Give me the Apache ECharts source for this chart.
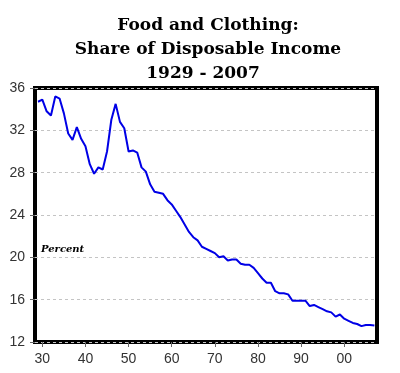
<!DOCTYPE html>
<html><head><meta charset="utf-8">
<script src="https://cdn.jsdelivr.net/npm/echarts@6/dist/echarts.min.js"></script>
<style>html,body{margin:0;padding:0;background:#fff}#c{width:400px;height:373px}</style>
</head><body><div id="c"></div>
<script>
var titleLines = ['Food and Clothing:', 'Share of Disposable Income', '1929 - 2007'];
var unitLabel = 'Percent';
var years = [];
for (var y = 1929; y <= 2007; y++) years.push(y);
var shares = [
 34.7, 34.9, 33.8, 33.4, 35.2, 35.0, 33.6, 31.7, 31.1, 32.3,
 31.2, 30.5, 28.8, 27.9, 28.5, 28.3, 30.0, 33.0, 34.5, 32.8,
 32.2, 30.0, 30.1, 29.9, 28.5, 28.1, 26.9, 26.2, 26.1, 26.0,
 25.4, 25.0, 24.4, 23.8, 23.1, 22.4, 21.9, 21.6, 21.0, 20.8,
 20.6, 20.4, 20.0, 20.1, 19.7, 19.8, 19.8, 19.4, 19.3, 19.3,
 19.0, 18.5, 18.0, 17.6, 17.6, 16.8, 16.6, 16.6, 16.5, 15.9,
 15.9, 15.9, 15.9, 15.4, 15.5, 15.3, 15.1, 14.9, 14.8, 14.4,
 14.6, 14.2, 14.0, 13.8, 13.7, 13.5, 13.6, 13.6, 13.55
];
var xTicks = [1930, 1940, 1950, 1960, 1970, 1980, 1990, 2000];

var data = years.map(function (yr, i) { return [yr, shares[i]]; });
var chart = echarts.init(document.getElementById('c'), null, {renderer: 'canvas'});
var titleFont = {fontFamily: 'DejaVu Serif', fontWeight: 'bold', fontSize: 17, fill: '#000'};
chart.setOption({
  animation: false,
  grid: {left: 35, right: 23, top: 88, bottom: 31, show: true, borderColor: '#000', borderWidth: 4, backgroundColor: 'transparent', containLabel: false},
  xAxis: {
    type: 'value', min: 1928.3, max: 2007.6,
    axisLine: {show: false},
    axisTick: {show: true, customValues: xTicks, length: 5, lineStyle: {color: '#666'}},
    axisLabel: {customValues: xTicks, margin: 10, color: '#333', fontSize: 14, fontFamily: 'Liberation Sans',
      formatter: function (v) { var s = String(Math.round(v) % 100); return s.length < 2 ? '0' + s : s; }},
    splitLine: {show: false}
  },
  yAxis: {
    type: 'value', min: 12, max: 36, interval: 4,
    axisLine: {show: false},
    axisTick: {show: true, length: 5, lineStyle: {color: '#666'}},
    axisLabel: {margin: 10, color: '#333', fontSize: 14, fontFamily: 'Liberation Sans'},
    splitLine: {show: true, lineStyle: {color: '#c4c4c4', type: [3, 3], width: 1}}
  },
  series: [{
    type: 'line', data: data, showSymbol: false, symbol: 'none',
    lineStyle: {color: '#0000e6', width: 2}, z: 5
  }],
  graphic: [
    {type: 'text', x: 208, y: 26, style: Object.assign({text: titleLines[0], align: 'center', verticalAlign: 'middle'}, titleFont)},
    {type: 'text', x: 208, y: 50, style: Object.assign({text: titleLines[1], align: 'center', verticalAlign: 'middle'}, titleFont)},
    {type: 'text', x: 203, y: 74, style: Object.assign({text: titleLines[2], align: 'center', verticalAlign: 'middle'}, titleFont)},
    {type: 'text', x: 41, y: 249, style: {text: unitLabel, fontFamily: 'DejaVu Serif', fontWeight: 'bold', fontStyle: 'italic', fontSize: 10, fill: '#000', align: 'left', verticalAlign: 'middle'}}
  ]
});
</script>
</body></html>
